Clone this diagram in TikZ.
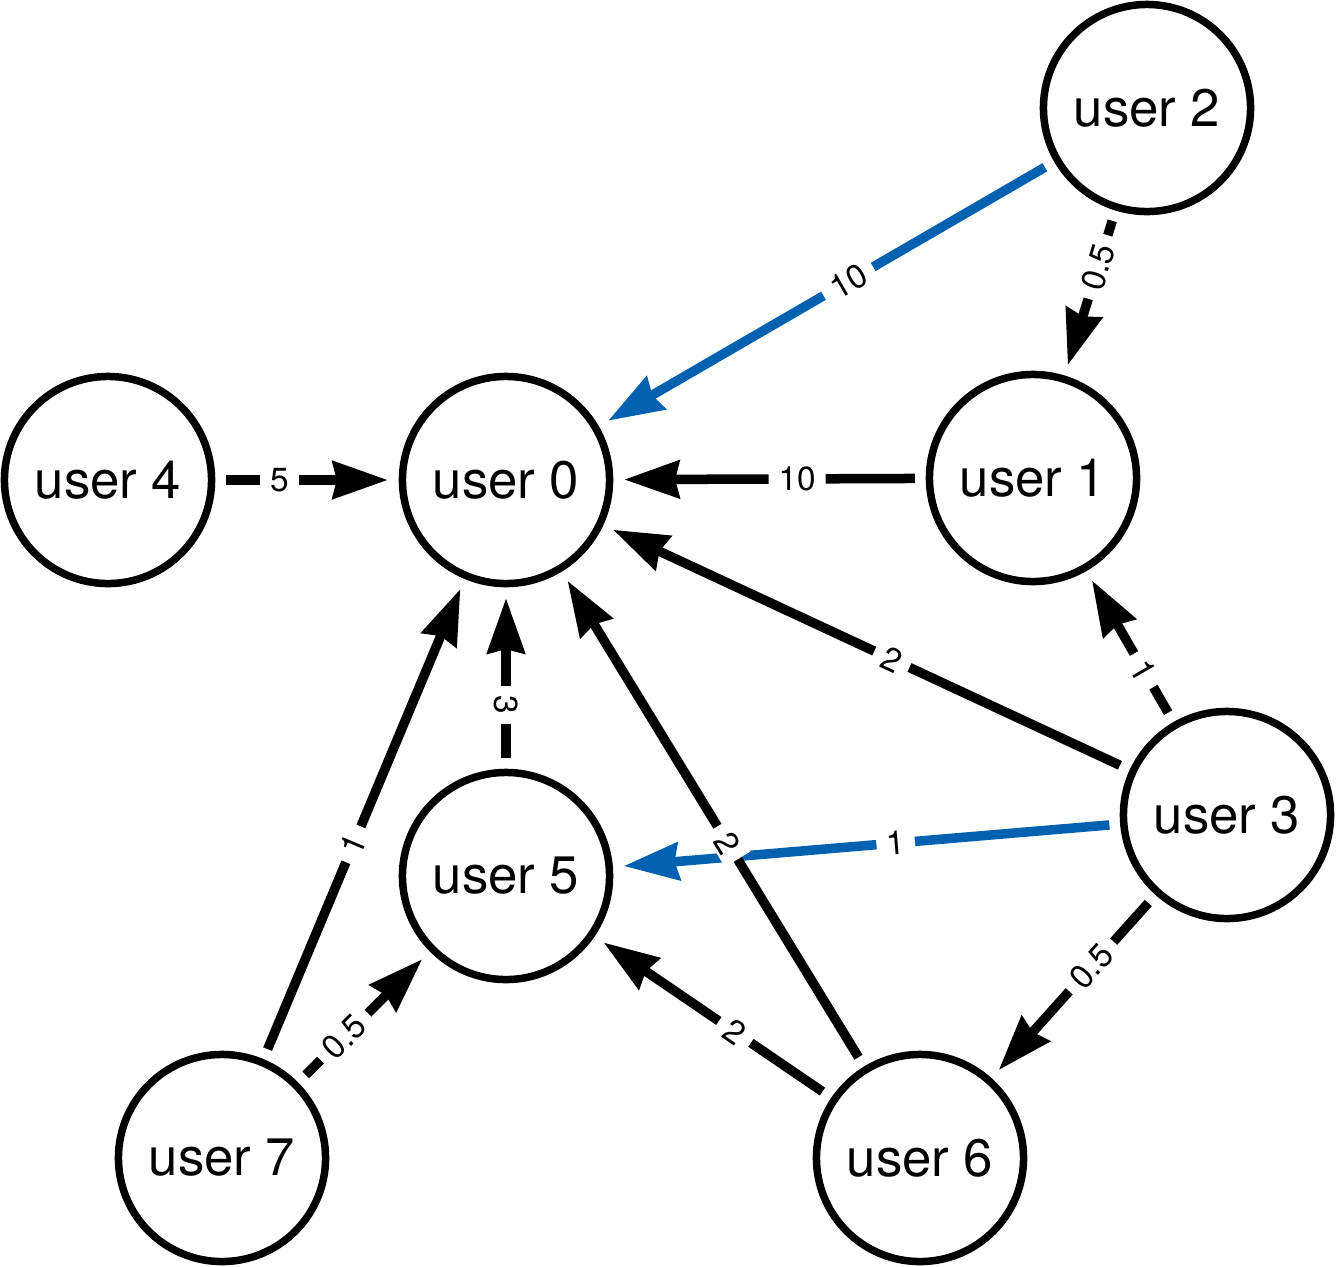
\documentclass[tikz,border=0pt]{standalone}
\usepackage{fontspec}
\setmainfont{TeX Gyre Heros}
\usepackage{tikz}
\usetikzlibrary{arrows.meta}
\definecolor{linkblue}{HTML}{0061B0}

\begin{document}
\begin{tikzpicture}[
  x=0.01cm, y=-0.01cm,
  user/.style={circle, draw=black, line width=0.075cm,
               minimum size=2.07cm, inner sep=0pt, outer sep=0.145cm,
               font=\fontsize{15}{18}\selectfont},
  arr/.style={-{Stealth[length=0.55cm, width=0.37cm, inset=0.04cm]},
              line width=0.095cm, color=black},
  barr/.style={arr, color=linkblue},
  wt/.style={fill=white, text=black, inner xsep=0.1cm, inner ysep=0.03cm,
             font=\fontsize{9.5}{11}\selectfont},
  swt/.style={wt, sloped}
]
\useasboundingbox (0,0) rectangle (1336,1266);
\node[user] (u0) at (506,480)  {user 0};
\node[user] (u1) at (1033,478) {user 1};
\node[user] (u2) at (1147,108) {user 2};
\node[user] (u3) at (1227,815) {user 3};
\node[user] (u4) at (108,480)  {user 4};
\node[user] (u5) at (506,876)  {user 5};
\node[user] (u6) at (920,1158) {user 6};
\node[user] (u7) at (222,1158) {user 7};

\draw[barr] (u2) -- node[swt, pos=0.45] {10} (u0);
\draw[arr] (u2) -- node[swt, pos=0.32] {0.5} (u1);
\draw[arr] (u4) -- node[swt, pos=0.33] {5} (u0);
\draw[arr] (u1) -- node[swt, pos=0.405] {10} (u0);
\draw[arr] (u3) -- node[swt, pos=0.45] {2} (u0);
\draw[arr] (u3) -- node[swt, pos=0.32] {1} (u1);
\draw[barr] (u3) -- node[swt, pos=0.44] {1} (u5);
\draw[arr] (u3) -- node[swt, pos=0.38] {0.5} (u6);
\draw[arr] (u5) -- node[wt, pos=0.33, rotate=-90] {3} (u0);
\draw[arr] (u7) -- node[swt, pos=0.445] {1} (u0);
\draw[arr] (u7) -- node[swt, pos=0.33] {0.5} (u5);
\draw[arr] (u6) -- node[swt, pos=0.45] {2} (u0);
\draw[arr] (u6) -- node[swt, pos=0.40] {2} (u5);
\end{tikzpicture}
\end{document}
